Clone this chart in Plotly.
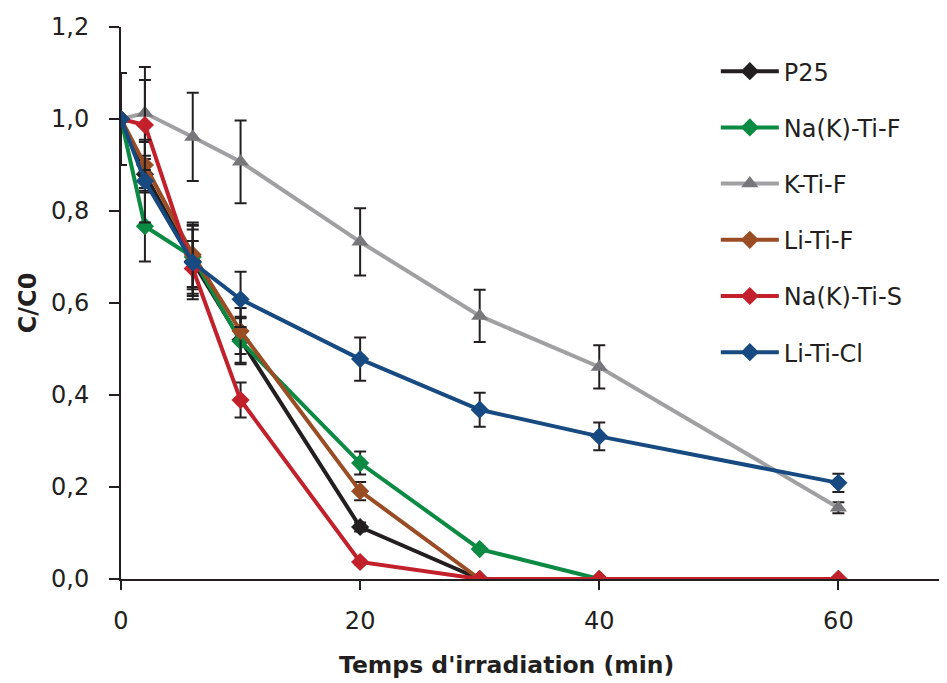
import plotly.graph_objects as go

time_min = [0, 2, 6, 10, 20, 30, 40, 60]

p25 = [1.0, 0.88, 0.69, 0.52, 0.113, 0.0, 0.0, 0.0]
p25_err = [0.0, 0.04, 0.07, 0.05, 0.01, 0.0, 0.0, 0.0]

na_k_ti_f = [1.0, 0.767, 0.70, 0.517, 0.252, 0.065, 0.0, 0.0]
na_k_ti_f_err = [0.0, 0.077, 0.07, 0.05, 0.025, 0.005, 0.0, 0.0]

k_ti_f = [1.0, 1.013, 0.961, 0.907, 0.733, 0.572, 0.461, 0.155]
k_ti_f_err = [0.1, 0.10, 0.096, 0.09, 0.073, 0.057, 0.047, 0.012]

li_ti_f = [1.0, 0.90, 0.705, 0.539, 0.191, 0.0, 0.0, 0.0]
li_ti_f_err = [0.0, 0.05, 0.07, 0.05, 0.02, 0.0, 0.0, 0.0]

na_k_ti_s = [1.0, 0.987, 0.675, 0.389, 0.037, 0.0, 0.0, 0.0]
na_k_ti_s_err = [0.0, 0.098, 0.06, 0.038, 0.005, 0.0, 0.0, 0.0]

li_ti_cl = [1.0, 0.865, 0.688, 0.608, 0.478, 0.368, 0.31, 0.209]
li_ti_cl_err = [0.1, 0.09, 0.08, 0.06, 0.047, 0.037, 0.03, 0.02]

x_title = "Temps d'irradiation (min)"
y_title = "C/C0"

series = [
    ("P25", p25, p25_err, "#231f20", "#231f20", "diamond"),
    ("Na(K)-Ti-F", na_k_ti_f, na_k_ti_f_err, "#0b8a43", "#0b8a43", "diamond"),
    ("K-Ti-F", k_ti_f, k_ti_f_err, "#a0a0a2", "#77777b", "triangle-up"),
    ("Li-Ti-F", li_ti_f, li_ti_f_err, "#9a4d24", "#9a4d24", "diamond"),
    ("Na(K)-Ti-S", na_k_ti_s, na_k_ti_s_err, "#c2202a", "#c2202a", "diamond"),
    ("Li-Ti-Cl", li_ti_cl, li_ti_cl_err, "#164a80", "#164a80", "diamond"),
]

fig = go.Figure()
for name, vals, errs, lc, mc, sym in series:
    fig.add_trace(go.Scatter(
        x=time_min, y=vals, name=name, mode="lines+markers",
        legendgroup=name,
        line=dict(color=lc, width=4),
        marker=dict(color=mc, symbol=sym, size=14 if sym == "diamond" else 15),
        error_y=dict(type="data", array=errs, visible=True, color="#231f20",
                     thickness=2, width=6),
    ))

fig.add_annotation(
    text="<b>" + x_title + "</b>", xref="paper", yref="paper",
    x=0.4667, y=-0.156, xanchor="center", yanchor="middle",
    showarrow=False, font=dict(size=23.5, color="#231f20"),
)

fig.update_layout(
    width=939, height=675,
    margin=dict(l=113, r=1, t=19, b=104, autoexpand=False),
    paper_bgcolor="white", plot_bgcolor="white",
    separators=", ",
    font=dict(family="DejaVu Sans, sans-serif", color="#231f20"),
    showlegend=True,
    legend=dict(
        x=0.721, y=0.960, xanchor="left", yanchor="top",
        font=dict(size=24, color="#231f20"),
        traceorder="grouped", tracegroupgap=22,
        itemwidth=58, bgcolor="rgba(0,0,0,0)",
    ),
    xaxis=dict(
        range=[0, 69], tickvals=[0, 20, 40, 60],
        showline=True, linecolor="#231f20", linewidth=2,
        ticks="outside", ticklen=9, tickwidth=2, tickcolor="#231f20",
        ticklabelstandoff=10,
        showgrid=False, zeroline=False, automargin=False,
        tickfont=dict(size=24),
    ),
    yaxis=dict(
        range=[0, 1.2], dtick=0.2, tickformat=".1f",
        showline=True, linecolor="#231f20", linewidth=2,
        ticks="outside", ticklen=10, tickwidth=2, tickcolor="#231f20",
        ticklabelstandoff=15,
        showgrid=False, zeroline=False, automargin=False,
        tickfont=dict(size=24),
        title=dict(text="<b>" + y_title + "</b>", font=dict(size=24), standoff=8),
    ),
)

fig.write_html("out.html")
